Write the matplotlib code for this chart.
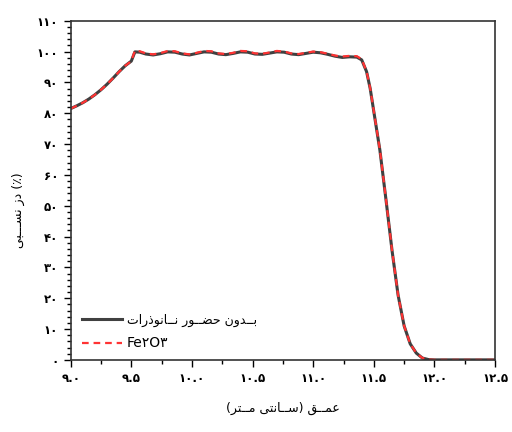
import numpy as np
import matplotlib
matplotlib.use("Agg")
import matplotlib.pyplot as plt
from matplotlib.ticker import MultipleLocator, FuncFormatter

# depth (cm) and relative dose (%)
depth = [9.00, 9.05, 9.10, 9.15, 9.20, 9.25, 9.30, 9.35, 9.40, 9.45, 9.50,
         9.53, 9.57, 9.62, 9.68, 9.74, 9.80, 9.86, 9.92, 9.98, 10.04, 10.10,
         10.16, 10.22, 10.28, 10.34, 10.40, 10.46, 10.52, 10.58, 10.64, 10.70,
         10.76, 10.82, 10.88, 10.94, 11.00, 11.06, 11.12, 11.18, 11.24, 11.30,
         11.36, 11.40, 11.44, 11.47, 11.50, 11.55, 11.60, 11.65, 11.70, 11.75,
         11.80, 11.85, 11.90, 11.95, 12.00, 12.50]
dose_none = [81.5, 82.4, 83.4, 84.6, 86.0, 87.6, 89.4, 91.4, 93.5, 95.4, 96.9,
             99.9, 99.8, 99.2, 98.9, 99.3, 99.9, 99.8, 99.2, 98.9, 99.4, 99.9,
             99.8, 99.2, 99.0, 99.4, 99.9, 99.8, 99.2, 99.1, 99.5, 99.9,
             99.8, 99.2, 99.0, 99.4, 99.8, 99.6, 99.1, 98.5, 98.1, 98.3,
             98.2, 97.3, 93.5, 88.0, 80.5, 68.0, 52.0, 35.5, 21.0, 11.0,
             5.2, 2.2, 0.6, 0.1, 0.0, 0.0]
dose_fe2o3 = [81.5, 82.4, 83.4, 84.6, 86.0, 87.6, 89.4, 91.4, 93.5, 95.4, 96.9,
              100.3, 100.1, 99.4, 99.1, 99.5, 100.2, 100.1, 99.4, 99.1, 99.6, 100.2,
              100.1, 99.4, 99.2, 99.6, 100.2, 100.1, 99.4, 99.3, 99.7, 100.2,
              100.0, 99.4, 99.2, 99.6, 100.0, 99.8, 99.3, 98.7, 98.4, 98.6,
              98.5, 97.5, 93.6, 88.1, 80.6, 68.1, 52.1, 35.6, 21.0, 11.0,
              5.2, 2.2, 0.6, 0.1, 0.0, 0.0]

# Persian words, pre-shaped in visual (left-to-right) order
w_bedun = "\uFEE5\uFEED\uFEAA\u0640\u0640\uFE91"                      # بدون
w_hozur = "\uFEAD\uFEEE\u0640\u0640\uFEC0\uFEA3"                      # حضور
w_nano = "\uFE95\uFE8D\uFEAD\uFEAB\uFEEE\uFEE7\uFE8E\u0640\u0640\uFEE7"  # نانوذرات
w_omgh = "\uFED6\u0640\u0640\uFEE4\uFECB"                             # عمق
w_santi = "\uFEF0\uFE98\uFEE7\uFE8E\u0640\u0640\uFEB3"                # سانتی
w_metr = "\uFEAE\uFE98\u0640\u0640\uFEE3"                             # متر
w_nesbi = "\uFEF0\uFE92\u0640\u0640\u0640\uFEB4\uFEE7"                # نسبی
w_doz = "\uFEAF\uFEA9"                                                # دز

label_none = w_nano + " " + w_hozur + " " + w_bedun
label_fe = "Fe\u06F2O\u06F3"
xlabel = "(" + w_metr + " " + w_santi + ") " + w_omgh
ylabel = w_nesbi + " " + w_doz + " (\u066A)"

fa_digits = str.maketrans("0123456789", "\u06F0\u06F1\u06F2\u06F3\u06F4\u06F5\u06F6\u06F7\u06F8\u06F9")


def fa_fmt(decimals):
    return FuncFormatter(lambda v, p: f"{v:.{decimals}f}".translate(fa_digits))


plt.rcParams['font.family'] = ['DejaVu Sans']

fig = plt.figure(figsize=(5.12, 4.32), dpi=100)
ax = fig.add_axes([0.138, 0.167, 0.829, 0.785])

ax.plot(depth, dose_none, color='#404040', lw=2.2, label=label_none)
ax.plot(depth, dose_fe2o3, color='#ff3333', lw=1.6, ls=(0, (3, 2.2)), label=label_fe)

ax.set_xlim(9.0, 12.5)
ax.set_ylim(0, 110)
ax.xaxis.set_major_locator(MultipleLocator(0.5))
ax.xaxis.set_minor_locator(MultipleLocator(0.25))
ax.yaxis.set_major_locator(MultipleLocator(10))
ax.yaxis.set_minor_locator(MultipleLocator(2))
ax.xaxis.set_major_formatter(fa_fmt(1))
ax.yaxis.set_major_formatter(fa_fmt(0))
ax.tick_params(which='major', direction='out', length=5, width=1, labelsize=8.5, pad=4)
ax.tick_params(which='minor', direction='out', length=3, width=1)
for lbl in ax.get_xticklabels() + ax.get_yticklabels():
    lbl.set_fontweight('bold')
for s in ax.spines.values():
    s.set_linewidth(1.2)
    s.set_color('#333333')

ax.set_xlabel(xlabel, fontsize=9, labelpad=12)
ax.set_ylabel(ylabel, fontsize=9)
ax.yaxis.set_label_coords(-0.108, 0.44)

leg = ax.legend(loc='lower left', bbox_to_anchor=(0.0, -0.005), frameon=False,
                fontsize=9, handlelength=3.2, handletextpad=0.4, labelspacing=0.75)
leg.get_texts()[1].set_fontsize(10)

fig.savefig("out.png", dpi=100)
